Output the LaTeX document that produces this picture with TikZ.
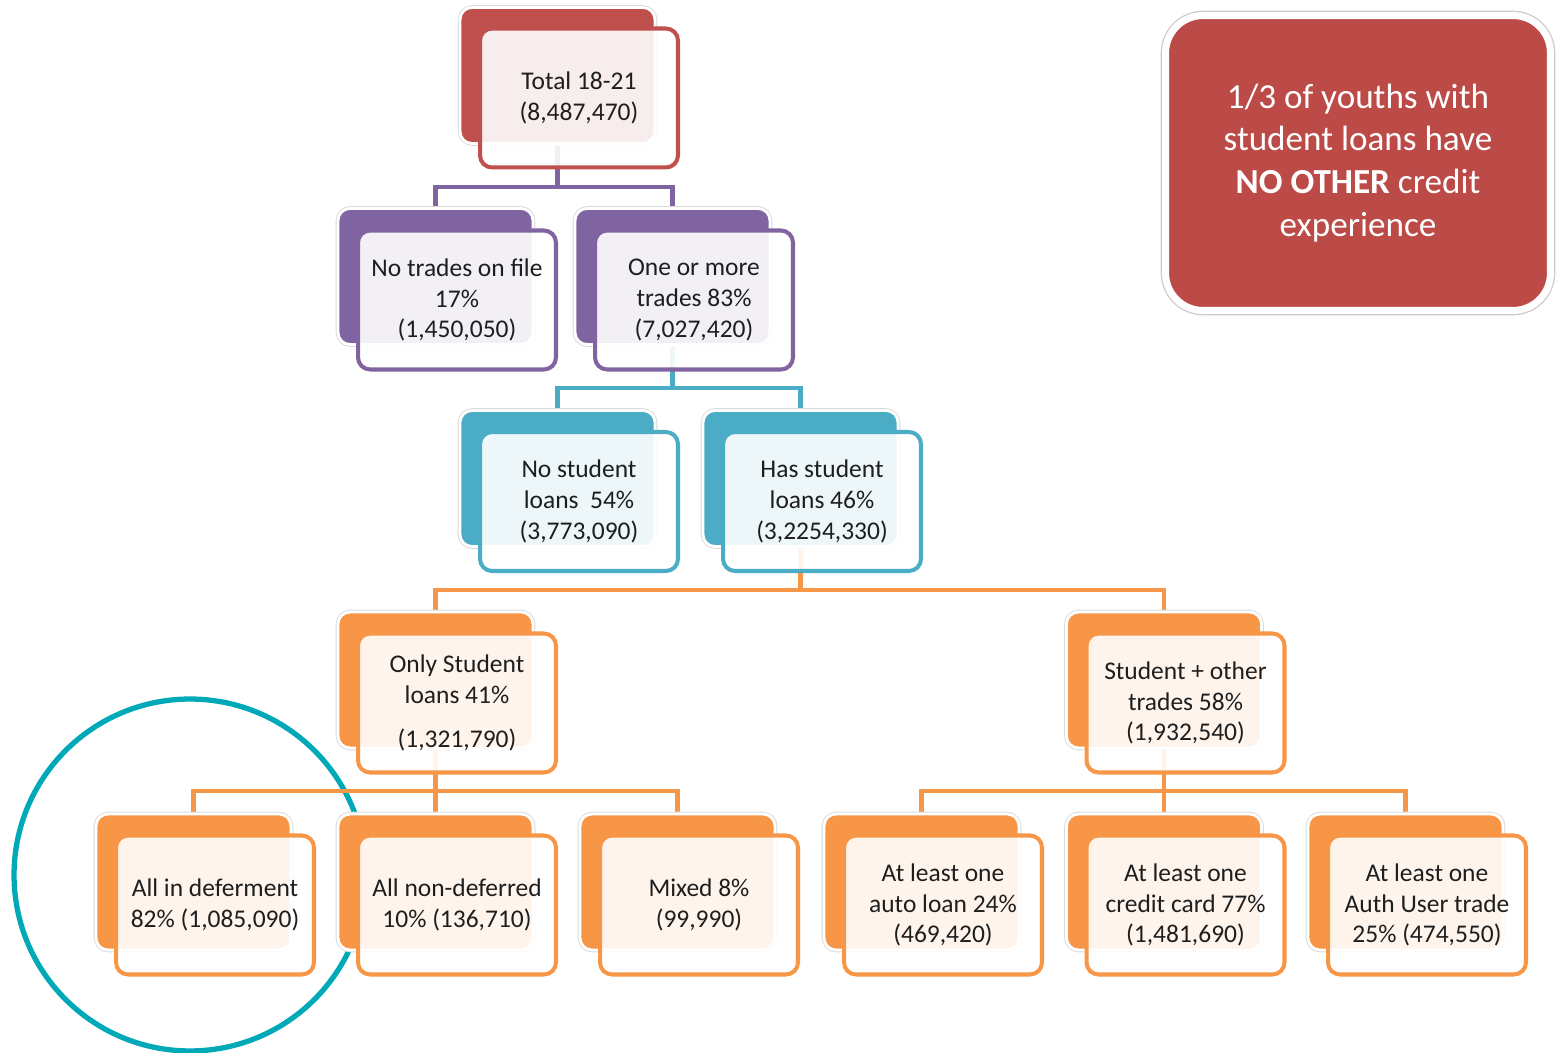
\documentclass[tikz,border=0pt]{standalone}
\usepackage{fontspec}
\setmainfont{Carlito}
\usetikzlibrary{backgrounds}
\definecolor{boxred}{HTML}{C0504D}
\definecolor{boxpurple}{HTML}{8064A2}
\definecolor{boxteal}{HTML}{4BACC6}
\definecolor{boxorange}{HTML}{F79646}
\definecolor{ringteal}{HTML}{00A9B7}
\definecolor{textgray}{HTML}{1E1E1E}
\definecolor{notered}{HTML}{BC4A47}
\begin{document}
\begin{tikzpicture}[x=0.02cm, y=-0.02cm,
    back/.style={rounded corners=0.24cm, minimum width=3.9cm, minimum height=2.72cm,
      fill=#1, draw=white, line width=1.6pt, preaction={draw=black!15, line width=2.6pt}},
    front/.style={rounded corners=0.24cm, minimum width=3.96cm, minimum height=2.78cm,
      draw=#1, line width=2.3pt, fill=white, fill opacity=0.9, text opacity=1,
      text=textgray, align=center, inner sep=2pt, font=\fontsize{14.5}{17.6}\selectfont},
    link/.style={draw=#1, line width=2.3pt},
    callout/.style={rounded corners=0.75cm, minimum width=7.7cm, minimum height=5.9cm,
      fill=notered, draw=white, line width=4pt, preaction={draw=black!20, line width=5.5pt},
      text=white, align=center, font=\fontsize{20}{24.4}\selectfont},
    focusring/.style={circle, draw=ringteal, line width=3pt, minimum size=7.04cm}]
  \useasboundingbox (0,0) rectangle (1556,1053);

  % level 1
  \node[back=boxred] (totalback) at (557.5,75.5) {};
  \node[front=boxred] (total) at (579,98) {Total 18-21\\(8,487,470)};

  % level 2
  \node[back=boxpurple] (notradesback) at (435.5,276.5) {};
  \node[front=boxpurple] (notrades) at (457,300) {No trades on file\\17\%\\(1,450,050)};
  \node[back=boxpurple] (moreback) at (672.5,276.5) {};
  \node[front=boxpurple] (more) at (694,300) {One or more\\trades 83\%\\(7,027,420)};

  % level 3
  \node[back=boxteal] (nostudentback) at (557.5,478.5) {};
  \node[front=boxteal] (nostudent) at (579,501.5) {No student\\loans~ 54\%\\(3,773,090)};
  \node[back=boxteal] (hasstudentback) at (800.5,478.5) {};
  \node[front=boxteal] (hasstudent) at (822,501.5) {Has student\\loans 46\%\\(3,2254,330)};

  % level 4
  \node[back=boxorange] (onlyback) at (435.5,680) {};
  \node[front=boxorange] (only) at (457,703) {Only Student\\loans 41\%\\[0.26cm](1,321,790)};
  \node[back=boxorange] (otherback) at (1164,680) {};
  \node[front=boxorange] (other) at (1185.5,703) {Student + other\\trades 58\%\\(1,932,540)};

  % level 5
  \node[back=boxorange] (deferback) at (193.5,882) {};
  \node[front=boxorange] (defer) at (215,905) {All in deferment\\82\% (1,085,090)};
  \node[back=boxorange] (nondeferback) at (435.5,882) {};
  \node[front=boxorange] (nondefer) at (457,905) {All non-deferred\\10\% (136,710)};
  \node[back=boxorange] (mixedback) at (677.5,882) {};
  \node[front=boxorange] (mixed) at (699,905) {Mixed 8\%\\(99,990)};
  \node[back=boxorange] (autoback) at (921.5,882) {};
  \node[front=boxorange] (auto) at (943,905) {At least one\\auto loan 24\%\\(469,420)};
  \node[back=boxorange] (cardback) at (1164,882) {};
  \node[front=boxorange] (card) at (1185.5,905) {At least one\\credit card 77\%\\(1,481,690)};
  \node[back=boxorange] (authback) at (1405.5,882) {};
  \node[front=boxorange] (auth) at (1427,905) {At least one\\Auth User trade\\25\% (474,550)};

  % side note
  \node[callout] (note) at (1358,163) {1/3 of youths with\\student loans have\\\textbf{NO OTHER} credit\\experience};

  \begin{scope}[on background layer]
    \node[focusring] (ring) at (190,875) {};

    \coordinate (split1) at (557.5,187);
    \draw[link=boxpurple] (totalback.south) -- (split1) -| (notradesback.north);
    \draw[link=boxpurple] (split1) -| (moreback.north);

    \coordinate (split2) at (672.5,388);
    \draw[link=boxteal] (moreback.south) -- (split2) -| (nostudentback.north);
    \draw[link=boxteal] (split2) -| (hasstudentback.north);

    \coordinate (split3) at (800.5,590);
    \draw[link=boxorange] (hasstudentback.south) -- (split3) -| (onlyback.north);
    \draw[link=boxorange] (split3) -| (otherback.north);

    \coordinate (split4) at (435.5,791);
    \draw[link=boxorange] (onlyback.south) -- (split4) -| (deferback.north);
    \draw[link=boxorange] (split4) -- (nondeferback.north);
    \draw[link=boxorange] (split4) -| (mixedback.north);

    \coordinate (split5) at (1164,791);
    \draw[link=boxorange] (otherback.south) -- (split5) -| (autoback.north);
    \draw[link=boxorange] (split5) -- (cardback.north);
    \draw[link=boxorange] (split5) -| (authback.north);
  \end{scope}
\end{tikzpicture}
\end{document}
